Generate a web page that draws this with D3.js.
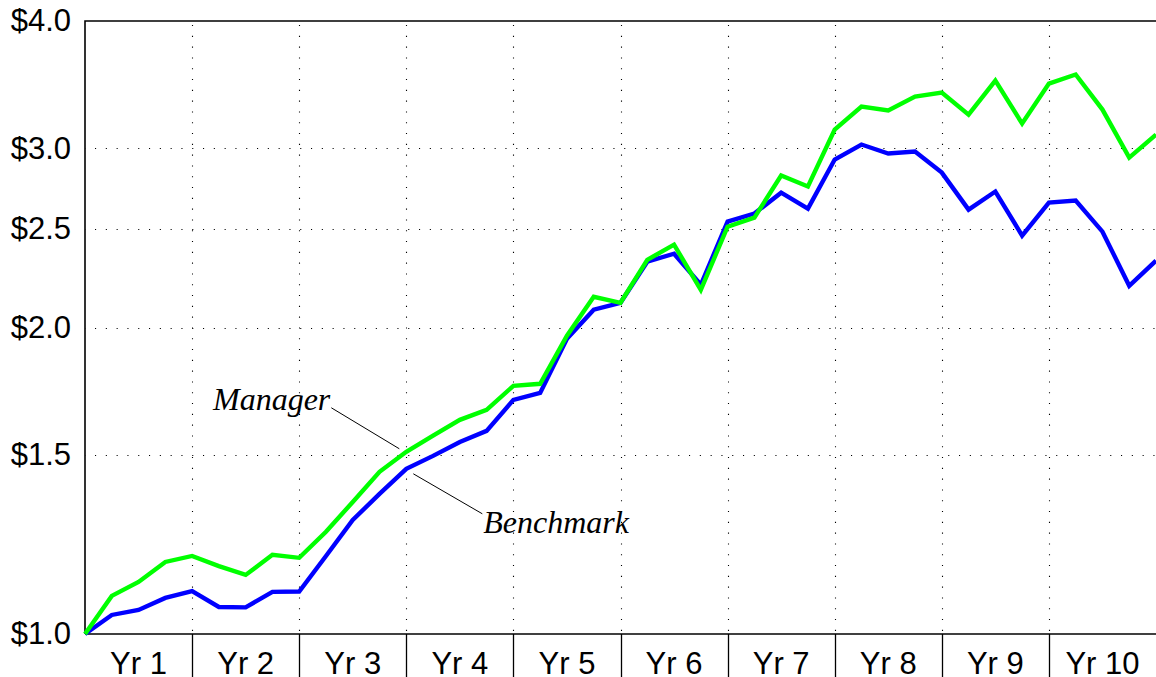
<!DOCTYPE html>
<html>
<head>
<meta charset="utf-8">
<script src="https://cdn.jsdelivr.net/npm/d3@7"></script>
<style>
  html, body { margin: 0; padding: 0; background: #fff; }
  svg { display: block; }
</style>
</head>
<body>
<svg id="chart" width="1156" height="677"></svg>
<script>
// Growth of $1, quarter-end values over ten years (41 points incl. start)
const quarters = d3.range(0, 41);
const manager = [
  1.000, 1.090, 1.125, 1.177, 1.193, 1.166, 1.143, 1.196, 1.188, 1.260,
  1.348, 1.443, 1.510, 1.566, 1.623, 1.660, 1.753, 1.761, 1.963, 2.144,
  2.115, 2.331, 2.412, 2.178, 2.512, 2.564, 2.820, 2.751, 3.129, 3.296,
  3.267, 3.372, 3.403, 3.237, 3.496, 3.172, 3.472, 3.544, 3.274, 2.937,
  3.094
];
const benchmark = [
  1.000, 1.044, 1.056, 1.085, 1.102, 1.063, 1.062, 1.100, 1.101, 1.193,
  1.294, 1.373, 1.453, 1.496, 1.544, 1.583, 1.698, 1.725, 1.950, 2.082,
  2.115, 2.321, 2.363, 2.203, 2.541, 2.588, 2.713, 2.617, 2.924, 3.025,
  2.964, 2.977, 2.839, 2.611, 2.720, 2.462, 2.653, 2.665, 2.484, 2.198,
  2.326
];
const yearLabels = ["Yr 1", "Yr 2", "Yr 3", "Yr 4", "Yr 5", "Yr 6", "Yr 7", "Yr 8", "Yr 9", "Yr 10"];
const yTicks = [1.0, 1.5, 2.0, 2.5, 3.0, 4.0];
const yGrid = [1.5, 2.0, 2.5, 3.0];

const svg = d3.select("#chart");
const plotLeft = 85, plotRight = 1156, plotTop = 21, plotBottom = 634;

const x = d3.scaleLinear().domain([0, 40]).range([plotLeft, plotRight]);
const y = d3.scaleLog().domain([1, 4]).range([plotBottom, plotTop]);

const yearBounds = d3.range(1, 10).map(k => k * 4);

// dotted grid
svg.append("g")
  .selectAll("line")
  .data(yGrid)
  .join("line")
  .attr("x1", plotLeft).attr("x2", plotRight)
  .attr("y1", d => Math.round(y(d)) + 0.5).attr("y2", d => Math.round(y(d)) + 0.5)
  .attr("stroke", "#000").attr("stroke-width", 1.1)
  .attr("stroke-dasharray", "1.1,9.7").attr("stroke-dashoffset", -10);

svg.append("g")
  .selectAll("line")
  .data(yearBounds)
  .join("line")
  .attr("x1", d => Math.round(x(d)) + 0.5).attr("x2", d => Math.round(x(d)) + 0.5)
  .attr("y1", plotTop + 4).attr("y2", plotBottom)
  .attr("stroke", "#000").attr("stroke-width", 1.1)
  .attr("stroke-dasharray", "1.1,9.7");

// frame: left and top edges, plus the category axis
svg.append("path")
  .attr("d", `M${plotLeft},${plotBottom}V${plotTop}H${plotRight}`)
  .attr("fill", "none").attr("stroke", "#000").attr("stroke-width", 1.6);

svg.append("line")
  .attr("x1", plotLeft).attr("x2", plotRight)
  .attr("y1", plotBottom).attr("y2", plotBottom)
  .attr("stroke", "#000").attr("stroke-width", 1.6);

// year separators below the axis
svg.append("g")
  .selectAll("line")
  .data(yearBounds)
  .join("line")
  .attr("x1", d => Math.round(x(d)) + 0.5).attr("x2", d => Math.round(x(d)) + 0.5)
  .attr("y1", plotBottom).attr("y2", 677)
  .attr("stroke", "#000").attr("stroke-width", 1.3);

// year labels
svg.append("g")
  .selectAll("text")
  .data(yearLabels)
  .join("text")
  .attr("x", (d, i) => x(i * 4 + 2))
  .attr("y", 674)
  .attr("text-anchor", "middle")
  .attr("font-family", "Liberation Sans, Arial, sans-serif")
  .attr("font-size", 31)
  .attr("fill", "#000")
  .text(d => d);

// value axis labels
const yAxis = d3.axisLeft(y)
  .tickValues(yTicks)
  .tickFormat(d => "$" + d.toFixed(1))
  .tickSize(0)
  .tickPadding(14);
const gy = svg.append("g").attr("transform", `translate(${plotLeft},0)`).call(yAxis);
gy.select(".domain").remove();
gy.selectAll("text")
  .attr("font-family", "Liberation Sans, Arial, sans-serif")
  .attr("font-size", 31)
  .attr("fill", "#000");

// series lines
const line = d3.line()
  .x((d, i) => x(quarters[i]))
  .y(d => y(d));

svg.append("path")
  .datum(benchmark)
  .attr("d", line)
  .attr("fill", "none")
  .attr("stroke", "#0000ff")
  .attr("stroke-width", 4.4)
  .attr("stroke-linejoin", "miter");

svg.append("path")
  .datum(manager)
  .attr("d", line)
  .attr("fill", "none")
  .attr("stroke", "#00ff00")
  .attr("stroke-width", 4.4)
  .attr("stroke-linejoin", "miter");

// callouts anchored to the end of year 3
const q = 12;
const mx = x(q), my = y(manager[q]);
const bx = x(q), by = y(benchmark[q]);

const callouts = svg.append("g")
  .attr("font-family", "Liberation Serif, Times New Roman, serif")
  .attr("font-style", "italic")
  .attr("font-size", 32)
  .attr("fill", "#000");

svg.append("line")
  .attr("x1", mx - 75).attr("y1", my - 44)
  .attr("x2", mx - 7).attr("y2", my - 3)
  .attr("stroke", "#000").attr("stroke-width", 1);
callouts.append("text")
  .attr("x", mx - 76).attr("y", my - 42)
  .attr("text-anchor", "end")
  .text("Manager");

svg.append("line")
  .attr("x1", bx + 7).attr("y1", by + 5)
  .attr("x2", bx + 76).attr("y2", by + 45)
  .attr("stroke", "#000").attr("stroke-width", 1);
callouts.append("text")
  .attr("x", bx + 77).attr("y", by + 64)
  .text("Benchmark");
</script>
</body>
</html>
